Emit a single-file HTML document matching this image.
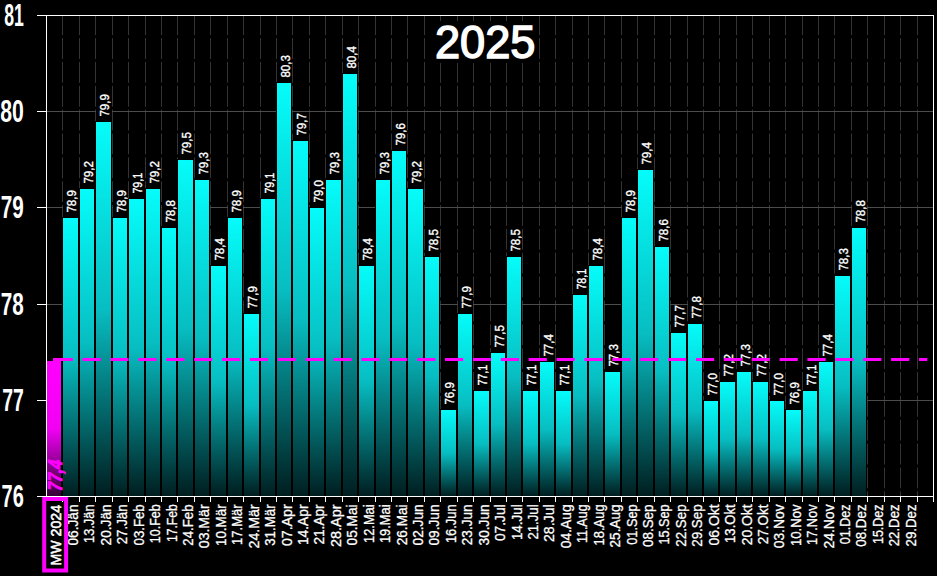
<!DOCTYPE html>
<html lang="de"><head><meta charset="utf-8"><title>2025</title>
<style>html,body{margin:0;padding:0;background:#000;overflow:hidden}svg{display:block}text{font-family:"Liberation Sans",Arial,sans-serif}</style>
</head><body>
<svg width="937" height="576" viewBox="0 0 937 576">
<defs>
<linearGradient id="gc" x1="0" y1="0" x2="0" y2="1"><stop offset="0" stop-color="#05fcfa"/><stop offset="0.5" stop-color="#07bec2"/><stop offset="1" stop-color="#001e20"/></linearGradient>
<linearGradient id="gm" x1="0" y1="0" x2="0" y2="1"><stop offset="0" stop-color="#ff00ff"/><stop offset="0.5" stop-color="#f200f4"/><stop offset="1" stop-color="#360038"/></linearGradient>
</defs>
<rect width="937" height="576" fill="#000"/>
<g stroke="#343434" stroke-width="1" stroke-dasharray="20.85 3" stroke-dashoffset="1.25">
<line x1="62.5" y1="15.5" x2="62.5" y2="496"/>
<line x1="79.5" y1="15.5" x2="79.5" y2="496"/>
<line x1="95.5" y1="15.5" x2="95.5" y2="496"/>
<line x1="112.5" y1="15.5" x2="112.5" y2="496"/>
<line x1="128.5" y1="15.5" x2="128.5" y2="496"/>
<line x1="145.5" y1="15.5" x2="145.5" y2="496"/>
<line x1="161.5" y1="15.5" x2="161.5" y2="496"/>
<line x1="177.5" y1="15.5" x2="177.5" y2="496"/>
<line x1="194.5" y1="15.5" x2="194.5" y2="496"/>
<line x1="210.5" y1="15.5" x2="210.5" y2="496"/>
<line x1="227.5" y1="15.5" x2="227.5" y2="496"/>
<line x1="243.5" y1="15.5" x2="243.5" y2="496"/>
<line x1="260.5" y1="15.5" x2="260.5" y2="496"/>
<line x1="276.5" y1="15.5" x2="276.5" y2="496"/>
<line x1="292.5" y1="15.5" x2="292.5" y2="496"/>
<line x1="309.5" y1="15.5" x2="309.5" y2="496"/>
<line x1="325.5" y1="15.5" x2="325.5" y2="496"/>
<line x1="342.5" y1="15.5" x2="342.5" y2="496"/>
<line x1="358.5" y1="15.5" x2="358.5" y2="496"/>
<line x1="375.5" y1="15.5" x2="375.5" y2="496"/>
<line x1="391.5" y1="15.5" x2="391.5" y2="496"/>
<line x1="407.5" y1="15.5" x2="407.5" y2="496"/>
<line x1="424.5" y1="15.5" x2="424.5" y2="496"/>
<line x1="440.5" y1="15.5" x2="440.5" y2="496"/>
<line x1="457.5" y1="15.5" x2="457.5" y2="496"/>
<line x1="473.5" y1="15.5" x2="473.5" y2="496"/>
<line x1="490.5" y1="15.5" x2="490.5" y2="496"/>
<line x1="506.5" y1="15.5" x2="506.5" y2="496"/>
<line x1="522.5" y1="15.5" x2="522.5" y2="496"/>
<line x1="539.5" y1="15.5" x2="539.5" y2="496"/>
<line x1="555.5" y1="15.5" x2="555.5" y2="496"/>
<line x1="572.5" y1="15.5" x2="572.5" y2="496"/>
<line x1="588.5" y1="15.5" x2="588.5" y2="496"/>
<line x1="604.5" y1="15.5" x2="604.5" y2="496"/>
<line x1="621.5" y1="15.5" x2="621.5" y2="496"/>
<line x1="637.5" y1="15.5" x2="637.5" y2="496"/>
<line x1="654.5" y1="15.5" x2="654.5" y2="496"/>
<line x1="670.5" y1="15.5" x2="670.5" y2="496"/>
<line x1="687.5" y1="15.5" x2="687.5" y2="496"/>
<line x1="703.5" y1="15.5" x2="703.5" y2="496"/>
<line x1="719.5" y1="15.5" x2="719.5" y2="496"/>
<line x1="736.5" y1="15.5" x2="736.5" y2="496"/>
<line x1="752.5" y1="15.5" x2="752.5" y2="496"/>
<line x1="769.5" y1="15.5" x2="769.5" y2="496"/>
<line x1="785.5" y1="15.5" x2="785.5" y2="496"/>
<line x1="802.5" y1="15.5" x2="802.5" y2="496"/>
<line x1="818.5" y1="15.5" x2="818.5" y2="496"/>
<line x1="834.5" y1="15.5" x2="834.5" y2="496"/>
<line x1="851.5" y1="15.5" x2="851.5" y2="496"/>
<line x1="867.5" y1="15.5" x2="867.5" y2="496"/>
<line x1="884.5" y1="15.5" x2="884.5" y2="496"/>
<line x1="900.5" y1="15.5" x2="900.5" y2="496"/>
<line x1="917.5" y1="15.5" x2="917.5" y2="496"/>
</g>
<g stroke="#4c4c4c" stroke-width="1" shape-rendering="crispEdges">
<line x1="47" y1="111.5" x2="933" y2="111.5"/>
<line x1="47" y1="207.5" x2="933" y2="207.5"/>
<line x1="47" y1="304.5" x2="933" y2="304.5"/>
<line x1="47" y1="400.5" x2="933" y2="400.5"/>
</g>
<g stroke="#fff" stroke-width="1" fill="none" shape-rendering="crispEdges">
<line x1="37" y1="15.5" x2="934" y2="15.5"/>
<line x1="933.5" y1="15" x2="933.5" y2="497"/>
</g>
<rect x="430" y="21" width="109" height="42" fill="#000"/>
<text x="485.2" y="57.6" font-size="46.5" fill="#fff" stroke="#fff" stroke-width="1.5" text-anchor="middle" textLength="100.5" lengthAdjust="spacingAndGlyphs">2025</text>
<g fill="#000" shape-rendering="crispEdges">
<rect x="46" y="360" width="16" height="136"/>
<rect x="62" y="217" width="17" height="279"/>
<rect x="79" y="188" width="16" height="308"/>
<rect x="95" y="121" width="17" height="375"/>
<rect x="112" y="217" width="16" height="279"/>
<rect x="128" y="198" width="17" height="298"/>
<rect x="145" y="188" width="16" height="308"/>
<rect x="161" y="227" width="16" height="269"/>
<rect x="177" y="159" width="17" height="337"/>
<rect x="194" y="179" width="16" height="317"/>
<rect x="210" y="265" width="17" height="231"/>
<rect x="227" y="217" width="16" height="279"/>
<rect x="243" y="313" width="17" height="183"/>
<rect x="260" y="198" width="16" height="298"/>
<rect x="276" y="82" width="16" height="414"/>
<rect x="292" y="140" width="17" height="356"/>
<rect x="309" y="207" width="16" height="289"/>
<rect x="325" y="179" width="17" height="317"/>
<rect x="342" y="73" width="16" height="423"/>
<rect x="358" y="265" width="17" height="231"/>
<rect x="375" y="179" width="16" height="317"/>
<rect x="391" y="150" width="16" height="346"/>
<rect x="407" y="188" width="17" height="308"/>
<rect x="424" y="256" width="16" height="240"/>
<rect x="440" y="409" width="17" height="87"/>
<rect x="457" y="313" width="16" height="183"/>
<rect x="473" y="390" width="17" height="106"/>
<rect x="490" y="352" width="16" height="144"/>
<rect x="506" y="256" width="16" height="240"/>
<rect x="522" y="390" width="17" height="106"/>
<rect x="539" y="361" width="16" height="135"/>
<rect x="555" y="390" width="17" height="106"/>
<rect x="572" y="294" width="16" height="202"/>
<rect x="588" y="265" width="16" height="231"/>
<rect x="604" y="371" width="17" height="125"/>
<rect x="621" y="217" width="16" height="279"/>
<rect x="637" y="169" width="17" height="327"/>
<rect x="654" y="246" width="16" height="250"/>
<rect x="670" y="332" width="17" height="164"/>
<rect x="687" y="323" width="16" height="173"/>
<rect x="703" y="400" width="16" height="96"/>
<rect x="719" y="381" width="17" height="115"/>
<rect x="736" y="371" width="16" height="125"/>
<rect x="752" y="381" width="17" height="115"/>
<rect x="769" y="400" width="16" height="96"/>
<rect x="785" y="409" width="17" height="87"/>
<rect x="802" y="390" width="16" height="106"/>
<rect x="818" y="361" width="16" height="135"/>
<rect x="834" y="275" width="17" height="221"/>
<rect x="851" y="227" width="16" height="269"/>
</g>
<g shape-rendering="crispEdges">
<rect x="47" y="361" width="14" height="135" fill="url(#gm)"/>
<rect x="63" y="218" width="15" height="278" fill="url(#gc)"/>
<rect x="80" y="189" width="14" height="307" fill="url(#gc)"/>
<rect x="96" y="122" width="15" height="374" fill="url(#gc)"/>
<rect x="113" y="218" width="14" height="278" fill="url(#gc)"/>
<rect x="129" y="199" width="15" height="297" fill="url(#gc)"/>
<rect x="146" y="189" width="14" height="307" fill="url(#gc)"/>
<rect x="162" y="228" width="14" height="268" fill="url(#gc)"/>
<rect x="178" y="160" width="15" height="336" fill="url(#gc)"/>
<rect x="195" y="180" width="14" height="316" fill="url(#gc)"/>
<rect x="211" y="266" width="15" height="230" fill="url(#gc)"/>
<rect x="228" y="218" width="14" height="278" fill="url(#gc)"/>
<rect x="244" y="314" width="15" height="182" fill="url(#gc)"/>
<rect x="261" y="199" width="14" height="297" fill="url(#gc)"/>
<rect x="277" y="83" width="14" height="413" fill="url(#gc)"/>
<rect x="293" y="141" width="15" height="355" fill="url(#gc)"/>
<rect x="310" y="208" width="14" height="288" fill="url(#gc)"/>
<rect x="326" y="180" width="15" height="316" fill="url(#gc)"/>
<rect x="343" y="74" width="14" height="422" fill="url(#gc)"/>
<rect x="359" y="266" width="15" height="230" fill="url(#gc)"/>
<rect x="376" y="180" width="14" height="316" fill="url(#gc)"/>
<rect x="392" y="151" width="14" height="345" fill="url(#gc)"/>
<rect x="408" y="189" width="15" height="307" fill="url(#gc)"/>
<rect x="425" y="257" width="14" height="239" fill="url(#gc)"/>
<rect x="441" y="410" width="15" height="86" fill="url(#gc)"/>
<rect x="458" y="314" width="14" height="182" fill="url(#gc)"/>
<rect x="474" y="391" width="15" height="105" fill="url(#gc)"/>
<rect x="491" y="353" width="14" height="143" fill="url(#gc)"/>
<rect x="507" y="257" width="14" height="239" fill="url(#gc)"/>
<rect x="523" y="391" width="15" height="105" fill="url(#gc)"/>
<rect x="540" y="362" width="14" height="134" fill="url(#gc)"/>
<rect x="556" y="391" width="15" height="105" fill="url(#gc)"/>
<rect x="573" y="295" width="14" height="201" fill="url(#gc)"/>
<rect x="589" y="266" width="14" height="230" fill="url(#gc)"/>
<rect x="605" y="372" width="15" height="124" fill="url(#gc)"/>
<rect x="622" y="218" width="14" height="278" fill="url(#gc)"/>
<rect x="638" y="170" width="15" height="326" fill="url(#gc)"/>
<rect x="655" y="247" width="14" height="249" fill="url(#gc)"/>
<rect x="671" y="333" width="15" height="163" fill="url(#gc)"/>
<rect x="688" y="324" width="14" height="172" fill="url(#gc)"/>
<rect x="704" y="401" width="14" height="95" fill="url(#gc)"/>
<rect x="720" y="382" width="15" height="114" fill="url(#gc)"/>
<rect x="737" y="372" width="14" height="124" fill="url(#gc)"/>
<rect x="753" y="382" width="15" height="114" fill="url(#gc)"/>
<rect x="770" y="401" width="14" height="95" fill="url(#gc)"/>
<rect x="786" y="410" width="15" height="86" fill="url(#gc)"/>
<rect x="803" y="391" width="14" height="105" fill="url(#gc)"/>
<rect x="819" y="362" width="14" height="134" fill="url(#gc)"/>
<rect x="835" y="276" width="15" height="220" fill="url(#gc)"/>
<rect x="852" y="228" width="14" height="268" fill="url(#gc)"/>
</g>
<g fill="#000" shape-rendering="crispEdges">
<rect x="63" y="190" width="16" height="28"/>
<rect x="80" y="161" width="15" height="28"/>
<rect x="96" y="94" width="16" height="28"/>
<rect x="113" y="190" width="15" height="28"/>
<rect x="129" y="171" width="16" height="28"/>
<rect x="146" y="161" width="15" height="28"/>
<rect x="162" y="200" width="15" height="28"/>
<rect x="178" y="132" width="16" height="28"/>
<rect x="195" y="152" width="15" height="28"/>
<rect x="211" y="238" width="16" height="28"/>
<rect x="228" y="190" width="15" height="28"/>
<rect x="244" y="286" width="16" height="28"/>
<rect x="261" y="171" width="15" height="28"/>
<rect x="277" y="55" width="15" height="28"/>
<rect x="293" y="113" width="16" height="28"/>
<rect x="310" y="180" width="15" height="28"/>
<rect x="326" y="152" width="16" height="28"/>
<rect x="343" y="46" width="15" height="28"/>
<rect x="359" y="238" width="16" height="28"/>
<rect x="376" y="152" width="15" height="28"/>
<rect x="392" y="123" width="15" height="28"/>
<rect x="408" y="161" width="16" height="28"/>
<rect x="425" y="229" width="15" height="28"/>
<rect x="441" y="382" width="16" height="28"/>
<rect x="458" y="286" width="15" height="28"/>
<rect x="474" y="363" width="16" height="28"/>
<rect x="491" y="325" width="15" height="28"/>
<rect x="507" y="229" width="15" height="28"/>
<rect x="523" y="363" width="16" height="28"/>
<rect x="540" y="334" width="15" height="28"/>
<rect x="556" y="363" width="16" height="28"/>
<rect x="573" y="267" width="15" height="28"/>
<rect x="589" y="238" width="15" height="28"/>
<rect x="605" y="344" width="16" height="28"/>
<rect x="622" y="190" width="15" height="28"/>
<rect x="638" y="142" width="16" height="28"/>
<rect x="655" y="219" width="15" height="28"/>
<rect x="671" y="305" width="16" height="28"/>
<rect x="688" y="296" width="15" height="28"/>
<rect x="704" y="373" width="15" height="28"/>
<rect x="720" y="354" width="16" height="28"/>
<rect x="737" y="344" width="15" height="28"/>
<rect x="753" y="354" width="16" height="28"/>
<rect x="770" y="373" width="15" height="28"/>
<rect x="786" y="382" width="16" height="28"/>
<rect x="803" y="363" width="15" height="28"/>
<rect x="819" y="334" width="15" height="28"/>
<rect x="835" y="248" width="16" height="28"/>
<rect x="852" y="200" width="15" height="28"/>
</g>
<g font-size="12.7" fill="#fff" stroke="#fff" stroke-width="0.35">
<text transform="translate(76.10,212.60) rotate(-90)" textLength="22.5" lengthAdjust="spacingAndGlyphs">78,9</text>
<text transform="translate(92.60,183.60) rotate(-90)" textLength="22.5" lengthAdjust="spacingAndGlyphs">79,2</text>
<text transform="translate(109.10,116.60) rotate(-90)" textLength="22.5" lengthAdjust="spacingAndGlyphs">79,9</text>
<text transform="translate(125.60,212.60) rotate(-90)" textLength="22.5" lengthAdjust="spacingAndGlyphs">78,9</text>
<text transform="translate(142.10,193.60) rotate(-90)" textLength="20.9" lengthAdjust="spacingAndGlyphs">79,1</text>
<text transform="translate(158.60,183.60) rotate(-90)" textLength="22.5" lengthAdjust="spacingAndGlyphs">79,2</text>
<text transform="translate(174.60,222.60) rotate(-90)" textLength="22.5" lengthAdjust="spacingAndGlyphs">78,8</text>
<text transform="translate(191.10,154.60) rotate(-90)" textLength="22.5" lengthAdjust="spacingAndGlyphs">79,5</text>
<text transform="translate(207.60,174.60) rotate(-90)" textLength="22.5" lengthAdjust="spacingAndGlyphs">79,3</text>
<text transform="translate(224.10,260.60) rotate(-90)" textLength="22.5" lengthAdjust="spacingAndGlyphs">78,4</text>
<text transform="translate(240.60,212.60) rotate(-90)" textLength="22.5" lengthAdjust="spacingAndGlyphs">78,9</text>
<text transform="translate(257.10,308.60) rotate(-90)" textLength="22.5" lengthAdjust="spacingAndGlyphs">77,9</text>
<text transform="translate(273.60,193.60) rotate(-90)" textLength="20.9" lengthAdjust="spacingAndGlyphs">79,1</text>
<text transform="translate(289.60,77.60) rotate(-90)" textLength="22.5" lengthAdjust="spacingAndGlyphs">80,3</text>
<text transform="translate(306.10,135.60) rotate(-90)" textLength="22.5" lengthAdjust="spacingAndGlyphs">79,7</text>
<text transform="translate(322.60,202.60) rotate(-90)" textLength="22.5" lengthAdjust="spacingAndGlyphs">79,0</text>
<text transform="translate(339.10,174.60) rotate(-90)" textLength="22.5" lengthAdjust="spacingAndGlyphs">79,3</text>
<text transform="translate(355.60,68.60) rotate(-90)" textLength="22.5" lengthAdjust="spacingAndGlyphs">80,4</text>
<text transform="translate(372.10,260.60) rotate(-90)" textLength="22.5" lengthAdjust="spacingAndGlyphs">78,4</text>
<text transform="translate(388.60,174.60) rotate(-90)" textLength="22.5" lengthAdjust="spacingAndGlyphs">79,3</text>
<text transform="translate(404.60,145.60) rotate(-90)" textLength="22.5" lengthAdjust="spacingAndGlyphs">79,6</text>
<text transform="translate(421.10,183.60) rotate(-90)" textLength="22.5" lengthAdjust="spacingAndGlyphs">79,2</text>
<text transform="translate(437.60,251.60) rotate(-90)" textLength="22.5" lengthAdjust="spacingAndGlyphs">78,5</text>
<text transform="translate(454.10,404.60) rotate(-90)" textLength="22.5" lengthAdjust="spacingAndGlyphs">76,9</text>
<text transform="translate(470.60,308.60) rotate(-90)" textLength="22.5" lengthAdjust="spacingAndGlyphs">77,9</text>
<text transform="translate(487.10,385.60) rotate(-90)" textLength="20.9" lengthAdjust="spacingAndGlyphs">77,1</text>
<text transform="translate(503.60,347.60) rotate(-90)" textLength="22.5" lengthAdjust="spacingAndGlyphs">77,5</text>
<text transform="translate(519.60,251.60) rotate(-90)" textLength="22.5" lengthAdjust="spacingAndGlyphs">78,5</text>
<text transform="translate(536.10,385.60) rotate(-90)" textLength="20.9" lengthAdjust="spacingAndGlyphs">77,1</text>
<text transform="translate(552.60,356.60) rotate(-90)" textLength="22.5" lengthAdjust="spacingAndGlyphs">77,4</text>
<text transform="translate(569.10,385.60) rotate(-90)" textLength="20.9" lengthAdjust="spacingAndGlyphs">77,1</text>
<text transform="translate(585.60,289.60) rotate(-90)" textLength="20.9" lengthAdjust="spacingAndGlyphs">78,1</text>
<text transform="translate(601.60,260.60) rotate(-90)" textLength="22.5" lengthAdjust="spacingAndGlyphs">78,4</text>
<text transform="translate(618.10,366.60) rotate(-90)" textLength="22.5" lengthAdjust="spacingAndGlyphs">77,3</text>
<text transform="translate(634.60,212.60) rotate(-90)" textLength="22.5" lengthAdjust="spacingAndGlyphs">78,9</text>
<text transform="translate(651.10,164.60) rotate(-90)" textLength="22.5" lengthAdjust="spacingAndGlyphs">79,4</text>
<text transform="translate(667.60,241.60) rotate(-90)" textLength="22.5" lengthAdjust="spacingAndGlyphs">78,6</text>
<text transform="translate(684.10,327.60) rotate(-90)" textLength="22.5" lengthAdjust="spacingAndGlyphs">77,7</text>
<text transform="translate(700.60,318.60) rotate(-90)" textLength="22.5" lengthAdjust="spacingAndGlyphs">77,8</text>
<text transform="translate(716.60,395.60) rotate(-90)" textLength="22.5" lengthAdjust="spacingAndGlyphs">77,0</text>
<text transform="translate(733.10,376.60) rotate(-90)" textLength="22.5" lengthAdjust="spacingAndGlyphs">77,2</text>
<text transform="translate(749.60,366.60) rotate(-90)" textLength="22.5" lengthAdjust="spacingAndGlyphs">77,3</text>
<text transform="translate(766.10,376.60) rotate(-90)" textLength="22.5" lengthAdjust="spacingAndGlyphs">77,2</text>
<text transform="translate(782.60,395.60) rotate(-90)" textLength="22.5" lengthAdjust="spacingAndGlyphs">77,0</text>
<text transform="translate(799.10,404.60) rotate(-90)" textLength="22.5" lengthAdjust="spacingAndGlyphs">76,9</text>
<text transform="translate(815.60,385.60) rotate(-90)" textLength="20.9" lengthAdjust="spacingAndGlyphs">77,1</text>
<text transform="translate(831.60,356.60) rotate(-90)" textLength="22.5" lengthAdjust="spacingAndGlyphs">77,4</text>
<text transform="translate(848.10,270.60) rotate(-90)" textLength="22.5" lengthAdjust="spacingAndGlyphs">78,3</text>
<text transform="translate(864.60,222.60) rotate(-90)" textLength="22.5" lengthAdjust="spacingAndGlyphs">78,8</text>
</g>
<text transform="translate(61.90,492.2) rotate(-90) skewX(-12)" font-size="20.3" font-weight="bold" fill="#ff00ff" stroke="#ff00ff" stroke-width="0.9" textLength="31.2" lengthAdjust="spacingAndGlyphs">77,4</text>
<g stroke="#fff" stroke-width="1" shape-rendering="crispEdges">
<line x1="46.5" y1="15" x2="46.5" y2="497"/>
<line x1="37" y1="496.5" x2="934" y2="496.5"/>
<line x1="37" y1="111.5" x2="46" y2="111.5"/>
<line x1="37" y1="207.5" x2="46" y2="207.5"/>
<line x1="37" y1="304.5" x2="46" y2="304.5"/>
<line x1="37" y1="400.5" x2="46" y2="400.5"/>
<line x1="62.5" y1="497" x2="62.5" y2="502"/>
<line x1="79.5" y1="497" x2="79.5" y2="502"/>
<line x1="95.5" y1="497" x2="95.5" y2="502"/>
<line x1="112.5" y1="497" x2="112.5" y2="502"/>
<line x1="128.5" y1="497" x2="128.5" y2="502"/>
<line x1="145.5" y1="497" x2="145.5" y2="502"/>
<line x1="161.5" y1="497" x2="161.5" y2="502"/>
<line x1="177.5" y1="497" x2="177.5" y2="502"/>
<line x1="194.5" y1="497" x2="194.5" y2="502"/>
<line x1="210.5" y1="497" x2="210.5" y2="502"/>
<line x1="227.5" y1="497" x2="227.5" y2="502"/>
<line x1="243.5" y1="497" x2="243.5" y2="502"/>
<line x1="260.5" y1="497" x2="260.5" y2="502"/>
<line x1="276.5" y1="497" x2="276.5" y2="502"/>
<line x1="292.5" y1="497" x2="292.5" y2="502"/>
<line x1="309.5" y1="497" x2="309.5" y2="502"/>
<line x1="325.5" y1="497" x2="325.5" y2="502"/>
<line x1="342.5" y1="497" x2="342.5" y2="502"/>
<line x1="358.5" y1="497" x2="358.5" y2="502"/>
<line x1="375.5" y1="497" x2="375.5" y2="502"/>
<line x1="391.5" y1="497" x2="391.5" y2="502"/>
<line x1="407.5" y1="497" x2="407.5" y2="502"/>
<line x1="424.5" y1="497" x2="424.5" y2="502"/>
<line x1="440.5" y1="497" x2="440.5" y2="502"/>
<line x1="457.5" y1="497" x2="457.5" y2="502"/>
<line x1="473.5" y1="497" x2="473.5" y2="502"/>
<line x1="490.5" y1="497" x2="490.5" y2="502"/>
<line x1="506.5" y1="497" x2="506.5" y2="502"/>
<line x1="522.5" y1="497" x2="522.5" y2="502"/>
<line x1="539.5" y1="497" x2="539.5" y2="502"/>
<line x1="555.5" y1="497" x2="555.5" y2="502"/>
<line x1="572.5" y1="497" x2="572.5" y2="502"/>
<line x1="588.5" y1="497" x2="588.5" y2="502"/>
<line x1="604.5" y1="497" x2="604.5" y2="502"/>
<line x1="621.5" y1="497" x2="621.5" y2="502"/>
<line x1="637.5" y1="497" x2="637.5" y2="502"/>
<line x1="654.5" y1="497" x2="654.5" y2="502"/>
<line x1="670.5" y1="497" x2="670.5" y2="502"/>
<line x1="687.5" y1="497" x2="687.5" y2="502"/>
<line x1="703.5" y1="497" x2="703.5" y2="502"/>
<line x1="719.5" y1="497" x2="719.5" y2="502"/>
<line x1="736.5" y1="497" x2="736.5" y2="502"/>
<line x1="752.5" y1="497" x2="752.5" y2="502"/>
<line x1="769.5" y1="497" x2="769.5" y2="502"/>
<line x1="785.5" y1="497" x2="785.5" y2="502"/>
<line x1="802.5" y1="497" x2="802.5" y2="502"/>
<line x1="818.5" y1="497" x2="818.5" y2="502"/>
<line x1="834.5" y1="497" x2="834.5" y2="502"/>
<line x1="851.5" y1="497" x2="851.5" y2="502"/>
<line x1="867.5" y1="497" x2="867.5" y2="502"/>
<line x1="884.5" y1="497" x2="884.5" y2="502"/>
<line x1="900.5" y1="497" x2="900.5" y2="502"/>
<line x1="917.5" y1="497" x2="917.5" y2="502"/>
<line x1="933.5" y1="497" x2="933.5" y2="502"/>
</g>
<g font-size="32" font-weight="bold" fill="#fff" text-anchor="end">
<text x="23.8" y="507.3" textLength="22.2" lengthAdjust="spacingAndGlyphs">76</text>
<text x="23.8" y="411.3" textLength="21.6" lengthAdjust="spacingAndGlyphs">77</text>
<text x="23.8" y="315.3" textLength="23.0" lengthAdjust="spacingAndGlyphs">78</text>
<text x="23.8" y="218.3" textLength="23.0" lengthAdjust="spacingAndGlyphs">79</text>
<text x="23.8" y="122.3" textLength="23.6" lengthAdjust="spacingAndGlyphs">80</text>
<text x="23.8" y="26.3" textLength="19.6" lengthAdjust="spacingAndGlyphs">81</text>
</g>
<g font-size="14.9" fill="#fff" stroke="#fff" stroke-width="0.3">
<text transform="translate(61.11,565.4) rotate(-90)" stroke-width="0.55" textLength="60.4" lengthAdjust="spacingAndGlyphs">MW 2024</text>
<text transform="translate(78.04,504.4) rotate(-90)" text-anchor="end" textLength="41.1" lengthAdjust="spacingAndGlyphs">06.Jän</text>
<text transform="translate(94.46,504.4) rotate(-90)" text-anchor="end" textLength="38.6" lengthAdjust="spacingAndGlyphs">13.Jän</text>
<text transform="translate(110.89,504.4) rotate(-90)" text-anchor="end" textLength="41.0" lengthAdjust="spacingAndGlyphs">20.Jän</text>
<text transform="translate(127.32,504.4) rotate(-90)" text-anchor="end" textLength="39.9" lengthAdjust="spacingAndGlyphs">27.Jän</text>
<text transform="translate(143.74,504.4) rotate(-90)" text-anchor="end" textLength="41.0" lengthAdjust="spacingAndGlyphs">03.Feb</text>
<text transform="translate(160.17,504.4) rotate(-90)" text-anchor="end" textLength="38.8" lengthAdjust="spacingAndGlyphs">10.Feb</text>
<text transform="translate(176.59,504.4) rotate(-90)" text-anchor="end" textLength="37.7" lengthAdjust="spacingAndGlyphs">17.Feb</text>
<text transform="translate(193.02,504.4) rotate(-90)" text-anchor="end" textLength="41.3" lengthAdjust="spacingAndGlyphs">24.Feb</text>
<text transform="translate(209.45,504.4) rotate(-90)" text-anchor="end" textLength="43.8" lengthAdjust="spacingAndGlyphs">03.Mär</text>
<text transform="translate(225.87,504.4) rotate(-90)" text-anchor="end" textLength="41.6" lengthAdjust="spacingAndGlyphs">10.Mär</text>
<text transform="translate(242.30,504.4) rotate(-90)" text-anchor="end" textLength="40.5" lengthAdjust="spacingAndGlyphs">17.Mär</text>
<text transform="translate(258.72,504.4) rotate(-90)" text-anchor="end" textLength="44.1" lengthAdjust="spacingAndGlyphs">24.Mär</text>
<text transform="translate(275.15,504.4) rotate(-90)" text-anchor="end" textLength="41.4" lengthAdjust="spacingAndGlyphs">31.Mär</text>
<text transform="translate(291.58,504.4) rotate(-90)" text-anchor="end" textLength="41.7" lengthAdjust="spacingAndGlyphs">07.Apr</text>
<text transform="translate(308.00,504.4) rotate(-90)" text-anchor="end" textLength="40.7" lengthAdjust="spacingAndGlyphs">14.Apr</text>
<text transform="translate(324.43,504.4) rotate(-90)" text-anchor="end" textLength="40.2" lengthAdjust="spacingAndGlyphs">21.Apr</text>
<text transform="translate(340.85,504.4) rotate(-90)" text-anchor="end" textLength="42.6" lengthAdjust="spacingAndGlyphs">28.Apr</text>
<text transform="translate(357.28,504.4) rotate(-90)" text-anchor="end" textLength="41.0" lengthAdjust="spacingAndGlyphs">05.Mai</text>
<text transform="translate(373.71,504.4) rotate(-90)" text-anchor="end" textLength="38.6" lengthAdjust="spacingAndGlyphs">12.Mai</text>
<text transform="translate(390.13,504.4) rotate(-90)" text-anchor="end" textLength="38.7" lengthAdjust="spacingAndGlyphs">19.Mai</text>
<text transform="translate(406.56,504.4) rotate(-90)" text-anchor="end" textLength="40.9" lengthAdjust="spacingAndGlyphs">26.Mai</text>
<text transform="translate(422.98,504.4) rotate(-90)" text-anchor="end" textLength="41.0" lengthAdjust="spacingAndGlyphs">02.Jun</text>
<text transform="translate(439.41,504.4) rotate(-90)" text-anchor="end" textLength="41.1" lengthAdjust="spacingAndGlyphs">09.Jun</text>
<text transform="translate(455.84,504.4) rotate(-90)" text-anchor="end" textLength="38.7" lengthAdjust="spacingAndGlyphs">16.Jun</text>
<text transform="translate(472.26,504.4) rotate(-90)" text-anchor="end" textLength="40.8" lengthAdjust="spacingAndGlyphs">23.Jun</text>
<text transform="translate(488.69,504.4) rotate(-90)" text-anchor="end" textLength="41.0" lengthAdjust="spacingAndGlyphs">30.Jun</text>
<text transform="translate(505.11,504.4) rotate(-90)" text-anchor="end" textLength="36.7" lengthAdjust="spacingAndGlyphs">07.Jul</text>
<text transform="translate(521.54,504.4) rotate(-90)" text-anchor="end" textLength="35.7" lengthAdjust="spacingAndGlyphs">14.Jul</text>
<text transform="translate(537.96,504.4) rotate(-90)" text-anchor="end" textLength="35.2" lengthAdjust="spacingAndGlyphs">21.Jul</text>
<text transform="translate(554.39,504.4) rotate(-90)" text-anchor="end" textLength="37.6" lengthAdjust="spacingAndGlyphs">28.Jul</text>
<text transform="translate(570.82,504.4) rotate(-90)" text-anchor="end" textLength="43.8" lengthAdjust="spacingAndGlyphs">04.Aug</text>
<text transform="translate(587.24,504.4) rotate(-90)" text-anchor="end" textLength="38.7" lengthAdjust="spacingAndGlyphs">11.Aug</text>
<text transform="translate(603.67,504.4) rotate(-90)" text-anchor="end" textLength="41.1" lengthAdjust="spacingAndGlyphs">18.Aug</text>
<text transform="translate(620.09,504.4) rotate(-90)" text-anchor="end" textLength="43.1" lengthAdjust="spacingAndGlyphs">25.Aug</text>
<text transform="translate(636.52,504.4) rotate(-90)" text-anchor="end" textLength="40.3" lengthAdjust="spacingAndGlyphs">01.Sep</text>
<text transform="translate(652.95,504.4) rotate(-90)" text-anchor="end" textLength="42.7" lengthAdjust="spacingAndGlyphs">08.Sep</text>
<text transform="translate(669.37,504.4) rotate(-90)" text-anchor="end" textLength="40.1" lengthAdjust="spacingAndGlyphs">15.Sep</text>
<text transform="translate(685.80,504.4) rotate(-90)" text-anchor="end" textLength="42.3" lengthAdjust="spacingAndGlyphs">22.Sep</text>
<text transform="translate(702.22,504.4) rotate(-90)" text-anchor="end" textLength="42.4" lengthAdjust="spacingAndGlyphs">29.Sep</text>
<text transform="translate(718.65,504.4) rotate(-90)" text-anchor="end" textLength="41.0" lengthAdjust="spacingAndGlyphs">06.Okt</text>
<text transform="translate(735.08,504.4) rotate(-90)" text-anchor="end" textLength="38.5" lengthAdjust="spacingAndGlyphs">13.Okt</text>
<text transform="translate(751.50,504.4) rotate(-90)" text-anchor="end" textLength="40.9" lengthAdjust="spacingAndGlyphs">20.Okt</text>
<text transform="translate(767.93,504.4) rotate(-90)" text-anchor="end" textLength="39.8" lengthAdjust="spacingAndGlyphs">27.Okt</text>
<text transform="translate(784.35,504.4) rotate(-90)" text-anchor="end" textLength="43.9" lengthAdjust="spacingAndGlyphs">03.Nov</text>
<text transform="translate(800.78,504.4) rotate(-90)" text-anchor="end" textLength="41.7" lengthAdjust="spacingAndGlyphs">10.Nov</text>
<text transform="translate(817.21,504.4) rotate(-90)" text-anchor="end" textLength="40.6" lengthAdjust="spacingAndGlyphs">17.Nov</text>
<text transform="translate(833.63,504.4) rotate(-90)" text-anchor="end" textLength="44.2" lengthAdjust="spacingAndGlyphs">24.Nov</text>
<text transform="translate(850.06,504.4) rotate(-90)" text-anchor="end" textLength="39.9" lengthAdjust="spacingAndGlyphs">01.Dez</text>
<text transform="translate(866.48,504.4) rotate(-90)" text-anchor="end" textLength="42.3" lengthAdjust="spacingAndGlyphs">08.Dez</text>
<text transform="translate(882.91,504.4) rotate(-90)" text-anchor="end" textLength="39.7" lengthAdjust="spacingAndGlyphs">15.Dez</text>
<text transform="translate(899.34,504.4) rotate(-90)" text-anchor="end" textLength="41.9" lengthAdjust="spacingAndGlyphs">22.Dez</text>
<text transform="translate(915.76,504.4) rotate(-90)" text-anchor="end" textLength="42.0" lengthAdjust="spacingAndGlyphs">29.Dez</text>
</g>
<rect x="44.2" y="499" width="21.9" height="71.5" fill="none" stroke="#ff00ff" stroke-width="4"/>
<line x1="54.7" y1="359.5" x2="927.3" y2="359.5" stroke="#ff00ff" stroke-width="3" stroke-dasharray="18.2 9.68"/>
<line x1="53" y1="359.5" x2="56" y2="359.5" stroke="#ff00ff" stroke-width="3"/>
</svg>
</body></html>
